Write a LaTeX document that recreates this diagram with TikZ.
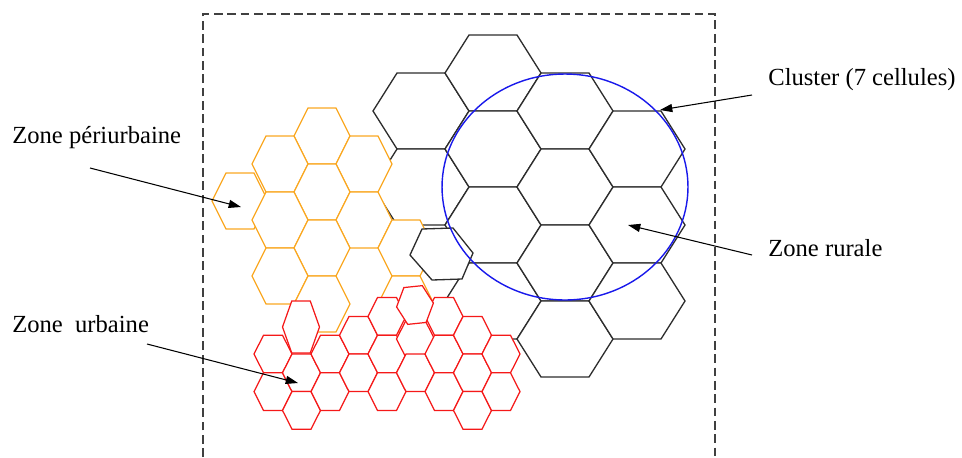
\documentclass[tikz,border=0pt]{standalone}
\usepackage{fontspec}
\setmainfont{Liberation Serif}
\usetikzlibrary{arrows.meta}

\definecolor{cellgray}{RGB}{45,45,45}
\definecolor{cellorange}{RGB}{250,168,35}
\definecolor{cellred}{RGB}{245,25,25}
\definecolor{cellblue}{RGB}{25,25,235}

\begin{document}
\begin{tikzpicture}[
    x=0.02cm, y=-0.02cm,
    pics/cell/.style n args={2}{code={
      \path[pic actions] (-#1,0) -- (-#1/2,-#2) -- (#1/2,-#2) -- (#1,0) -- (#1/2,#2) -- (-#1/2,#2) -- cycle;
    }},
    ruralcell/.style={draw=cellgray, fill=white, line width=0.75pt},
    periurbcell/.style={draw=cellorange, fill=white, line width=0.75pt},
    urbcell/.style={draw=cellred, fill=white, line width=0.7pt},
    frame/.style={draw=black!75, line width=0.8pt, dash pattern=on 5pt off 2.6pt},
    zonetext/.style={font=\fontsize{14}{16}\selectfont, inner sep=0pt, anchor=base west},
    arrow/.style={-{Triangle[length=7pt, width=4.6pt]}, line width=0.6pt},
  ]
  \useasboundingbox (0,0) rectangle (962,457);

  % study area
  \draw[frame] (203,457) -- (203,14) -- (715,14) -- (715,457);

  % rural cells
  \foreach \cx/\cy in {421/111, 421/187, 493/73, 493/149, 493/225, 493/301,
                       565/111, 565/187, 565/263, 565/339, 637/149, 637/225, 637/301}
    \pic[ruralcell] at (\cx,\cy) {cell={48}{38}};

  % periurban cells
  \foreach \cx/\cy in {322/136, 280/164, 364/164, 240/201, 322/192, 280/220,
                       364/220, 322/248, 406/248, 280/276, 322/304, 406/304}
    \pic[periurbcell] at (\cx,\cy) {cell={28}{28}};

  % small rural cell
  \draw[ruralcell] (422,229) -- (453,228) -- (473,253) -- (462,279) -- (432,280) -- (410,255) -- cycle;

  % urban cells
  \foreach \cx/\cy in {273/354, 273/391.6, 301.5/372.8, 301.5/410.4, 330/354, 330/391.6,
                       358.5/335.2, 358.5/372.8, 387/316.4, 387/354, 387/391.6, 415.5/339, 415.5/372.8,
                       444/316.4, 444/354, 444/391.6, 472.5/335.2, 472.5/372.8, 472.5/410.4, 501/354, 501/391.6}
    \pic[urbcell] at (\cx,\cy) {cell={19}{18.8}};
  \pic[urbcell] at (301,327) {cell={18.5}{26}};
  \pic[urbcell, rotate=6] at (415,305) {cell={18.5}{18.5}};

  % cluster
  \draw[cellblue, line width=0.8pt] (565,187) ellipse [x radius=2.46cm, y radius=2.26cm];

  % labels
  \node[zonetext] (periurb) at (12,143) {Zone périurbaine};
  \node[zonetext] (urb) at (12,332) {Zone\ \ urbaine};
  \node[zonetext] (cluster) at (768,85) {Cluster (7 cellules)};
  \node[zonetext] (rural) at (768,256) {Zone rurale};

  \coordinate (periurbTail) at (90,168);
  \coordinate (periurbTip) at (241,207);
  \coordinate (urbTail) at (147,344);
  \coordinate (urbTip) at (298,383);
  \coordinate (clusterTail) at (752,95);
  \coordinate (clusterTip) at (660,110);
  \coordinate (ruralTail) at (752,255);
  \coordinate (ruralTip) at (628,225);

  \draw[arrow] (periurbTail) -- (periurbTip);
  \draw[arrow] (urbTail) -- (urbTip);
  \draw[arrow] (clusterTail) -- (clusterTip);
  \draw[arrow] (ruralTail) -- (ruralTip);
\end{tikzpicture}
\end{document}
